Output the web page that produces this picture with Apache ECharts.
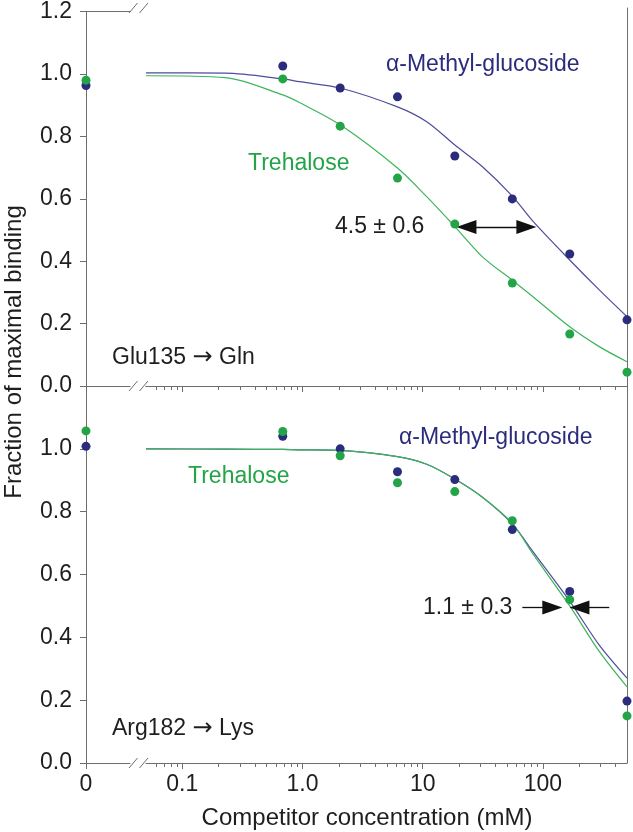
<!DOCTYPE html>
<html><head><meta charset="utf-8">
<script src="https://cdn.jsdelivr.net/npm/echarts@6/dist/echarts.min.js"></script>
<style>html,body{margin:0;padding:0;background:#fff}#c{width:633px;height:832px}</style>
</head><body><div id="c"></div>
<script>
// ---- data ----
const conc = [0.686, 2.06, 6.17, 18.5, 55.6, 167, 500];
const mgTopZero = 0.963, treTopZero = 0.98;
const mgTop  = [1.016, 0.946, 0.918, 0.73, 0.594, 0.419, 0.21];
const treTop = [0.975, 0.825, 0.66, 0.514, 0.327, 0.165, 0.044];
const mgBotZero = 1.008, treBotZero = 1.057;
const mgBot  = [1.04, 1.0, 0.927, 0.902, 0.743, 0.546, 0.197];
const treBot = [1.055, 0.978, 0.892, 0.864, 0.771, 0.52, 0.15];
const curveX    = [0.05, 0.229, 0.686, 0.944, 2.06, 6.17, 10.8, 18.5, 31.4, 55.6, 81.7, 167, 294, 500];
const mgTopFit  = [0.994, 0.993, 0.975, 0.966, 0.946, 0.886, 0.839, 0.765, 0.696, 0.603, 0.525, 0.40, 0.305, 0.22];
const treTopFit = [0.985, 0.979, 0.924, 0.90, 0.829, 0.692, 0.601, 0.506, 0.41, 0.336, 0.285, 0.188, 0.125, 0.077];
const mgBotFit  = [1.0, 0.999, 0.998, 0.997, 0.995, 0.975, 0.951, 0.904, 0.846, 0.761, 0.675, 0.515, 0.375, 0.27];
const treBotFit = [1.0, 0.999, 0.998, 0.997, 0.995, 0.975, 0.951, 0.904, 0.846, 0.763, 0.668, 0.50, 0.355, 0.242];
const majorTicks = [0.1, 1, 10, 100];
const majorLabels = ['0.1', '1.0', '10', '100'];
const minorTicks = [0.06,0.07,0.08,0.09,0.2,0.3,0.4,0.5,0.6,0.7,0.8,0.9,2,3,4,5,6,7,8,9,20,30,40,50,60,70,80,90,200,300,400];
const yTicks = [0, 0.2, 0.4, 0.6, 0.8, 1.0, 1.2];
// arrows (data coords)
const topArrow = {y: 0.505, from: 23.1, to: 72.8};
const botArrowL = {y: 0.495, from: 67.4, to: 119.7};
const botArrowR = {y: 0.495, from: 356, to: 201};

const NAVY = '#2b2d7c', GREEN = '#22a447';
const NAVY_L = '#4d4d9c', GREEN_L = '#3cb55a';
const AX = '#6e6e6e', TXT = '#1e1e1e';
const FONT = '"Liberation Sans", Arial, Helvetica, sans-serif';

const zeroL = 86, zeroW = 44, logL = 146, logW = 481;
const topT = 8, topH = 378, botT = 386, botH = 377;

function zip(xs, ys){ return xs.map((x,i)=>[x, ys[i]]); }

function lineOnly(extra){ return Object.assign({axisLine:{show:true, lineStyle:{color:AX,width:1}}, axisTick:{show:false}, axisLabel:{show:false}, splitLine:{show:false}}, extra); }

const xAxis = [
  lineOnly({gridIndex:0, type:'value', min:0, max:1, position:'bottom'}),
  lineOnly({gridIndex:0, type:'value', min:0, max:1, position:'top'}),
  lineOnly({gridIndex:1, type:'log', min:0.05, max:500, position:'bottom',
    axisTick:{show:true, length:6, lineStyle:{color:AX, width:1}, customValues: majorTicks}}),
  lineOnly({gridIndex:1, type:'value', min:0, max:1, position:'top'}),
  lineOnly({gridIndex:2, type:'value', min:0, max:1, position:'bottom',
    axisTick:{show:true, length:6, lineStyle:{color:AX, width:1}, customValues:[0]},
    axisLabel:{show:true, customValues:[0], formatter:()=> '0', fontSize:23, color:TXT, fontFamily:FONT, margin:10}}),
  lineOnly({gridIndex:3, type:'log', min:0.05, max:500, position:'bottom',
    axisTick:{show:true, length:6, lineStyle:{color:AX, width:1}, customValues: majorTicks},
    axisLabel:{show:true, customValues: majorTicks, fontSize:23, color:TXT, fontFamily:FONT, margin:10,
      formatter: v => { const i = majorTicks.findIndex(t => Math.abs(t - v) / t < 1e-6); return i >= 0 ? majorLabels[i] : ''; }}})
];

function yLeft(gi, vals){
  return {gridIndex:gi, type:'value', min:0, max:1.2, position:'left',
    axisLine:{show:true, lineStyle:{color:AX,width:1}},
    axisTick:{show:true, length:6, lineStyle:{color:AX, width:1}, customValues: yTicks},
    axisLabel:{show:true, customValues: vals, fontSize:23, color:TXT, fontFamily:FONT, margin:14, formatter: v => v.toFixed(1)},
    splitLine:{show:false}};
}
const yAxis = [
  yLeft(0, yTicks),
  {gridIndex:1, type:'value', min:0, max:1.2, show:false},
  lineOnly({gridIndex:1, type:'value', min:0, max:1.2, position:'right'}),
  yLeft(2, yTicks.slice(0, 6)),
  {gridIndex:3, type:'value', min:0, max:1.2, show:false},
  lineOnly({gridIndex:3, type:'value', min:0, max:1.2, position:'right'})
];

function dots(xi, yi, data, color){
  return {type:'scatter', xAxisIndex:xi, yAxisIndex:yi, data, symbolSize:9, clip:false, z:5,
    itemStyle:{color, opacity:1}, silent:true};
}
function fit(xi, yi, ys, color){
  return {type:'line', xAxisIndex:xi, yAxisIndex:yi, data: zip(curveX, ys), showSymbol:false, smooth:0.3,
    lineStyle:{color, width:1.2}, z:3, silent:true};
}
function minorTickSeries(xi, yi){
  return {type:'custom', coordinateSystem:'cartesian2d', xAxisIndex:xi, yAxisIndex:yi, clip:false, silent:true, z:6,
    data: minorTicks.map(v => [v, 0]),
    encode:{x:0, y:1},
    renderItem: function (params, api) {
      const p = api.coord([api.value(0), api.value(1)]);
      const x = Math.round(p[0]) + 0.5;
      return {type:'line', shape:{x1:x, y1:p[1], x2:x, y2:p[1] + 4}, style:{stroke:AX, lineWidth:1}};
    }};
}
function arrowML(list, sym){
  return {silent:true, animation:false, label:{show:false}, symbol:sym, symbolSize:[14,20],
    lineStyle:{color:'#111', width:1.3, type:'solid'},
    data: list.map(a => [{coord:[a.from, a.y]}, {coord:[a.to, a.y]}])};
}

const series = [
  dots(0, 0, [[0, mgTopZero]], NAVY),
  dots(0, 0, [[0, treTopZero]], GREEN),
  fit(2, 1, mgTopFit, NAVY_L),
  Object.assign(fit(2, 1, treTopFit, GREEN_L), {markLine: arrowML([topArrow], ['triangle','triangle'])}),
  dots(2, 1, zip(conc, mgTop), NAVY),
  dots(2, 1, zip(conc, treTop), GREEN),
  minorTickSeries(2, 1),
  dots(4, 3, [[0, mgBotZero]], NAVY),
  dots(4, 3, [[0, treBotZero]], GREEN),
  fit(5, 4, mgBotFit, NAVY_L),
  Object.assign(fit(5, 4, treBotFit, GREEN_L), {markLine: arrowML([botArrowL, botArrowR], ['none','triangle'])}),
  dots(5, 4, zip(conc, mgBot), NAVY),
  dots(5, 4, zip(conc, treBot), GREEN),
  minorTickSeries(5, 4)
];

function brk(y){
  return [
    {type:'line', shape:{x1:129, y1:y+5, x2:137.5, y2:y-5}, style:{stroke:AX, lineWidth:1}},
    {type:'line', shape:{x1:139.5, y1:y+5, x2:148, y2:y-5}, style:{stroke:AX, lineWidth:1}}
  ];
}
const RICH = {a:{fontFamily:'"DejaVu Sans", sans-serif', fontSize:24, fill:TXT}};
function txt(x, y, text, color, size, align){
  return {type:'text', x, y, style:{text, fill:color, font:`${size}px ${FONT}`, textAlign:align||'left', textVerticalAlign:'middle', rich:RICH}};
}

const graphic = [
  ...brk(topT), ...brk(botT), ...brk(botT + botH),
  txt(386, 65, 'α-Methyl-glucoside', NAVY, 23),
  txt(248, 164, 'Trehalose', GREEN, 23),
  txt(335, 227, '4.5 ± 0.6', TXT, 23),
  txt(112, 358, 'Glu135 {a|→} Gln', TXT, 23),
  txt(399, 438, 'α-Methyl-glucoside', NAVY, 23),
  txt(188, 477, 'Trehalose', GREEN, 23),
  txt(423, 608, '1.1 ± 0.3', TXT, 23),
  txt(112, 729, 'Arg182 {a|→} Lys', TXT, 23),
  txt(367, 818, 'Competitor concentration (mM)', TXT, 24, 'center'),
  {type:'text', x:14, y:352, rotation:Math.PI/2,
    style:{text:'Fraction of maximal binding', fill:TXT, font:`24px ${FONT}`, textAlign:'center', textVerticalAlign:'middle'}}
];

const chart = echarts.init(document.getElementById('c'), null, {renderer:'canvas'});
chart.setOption({
  animation:false,
  backgroundColor:'#fff',
  grid:[
    {left:zeroL, top:topT, width:zeroW, height:topH},
    {left:logL, top:topT, width:logW, height:topH},
    {left:zeroL, top:botT, width:zeroW, height:botH},
    {left:logL, top:botT, width:logW, height:botH}
  ],
  xAxis, yAxis, series, graphic
});
</script></body></html>
